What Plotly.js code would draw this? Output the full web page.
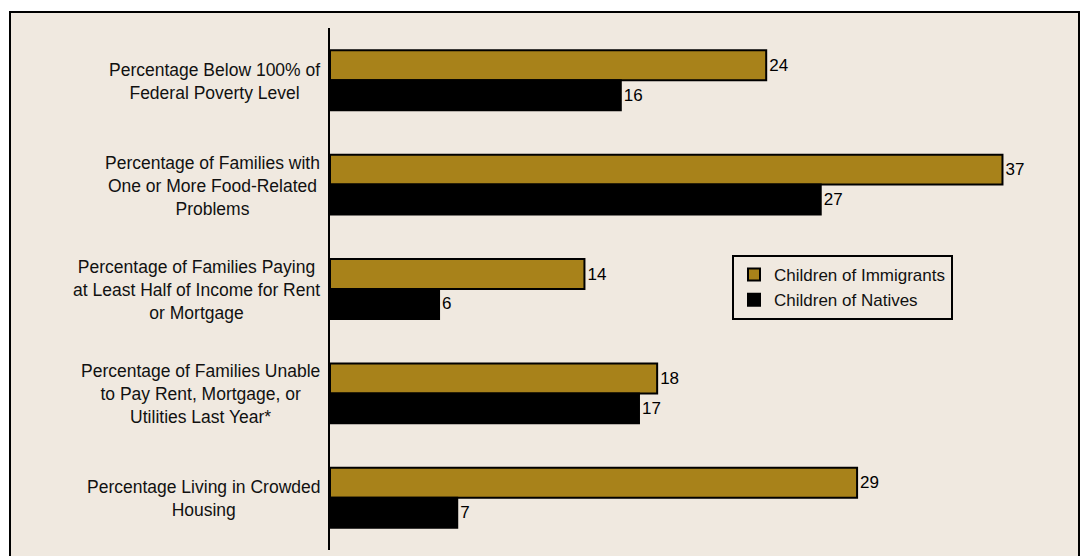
<!DOCTYPE html>
<html>
<head>
<meta charset="utf-8">
<script src="https://cdn.plot.ly/plotly-3.0.1.min.js"></script>
<style>html,body{margin:0;padding:0;background:#fff;}#chart{width:1080px;height:556px;}</style>
</head>
<body>
<div id="chart"></div>
<script>
const categories = [
  "Percentage Below 100% of<br>Federal Poverty Level",
  "Percentage of Families with<br>One or More Food-Related<br>Problems",
  "Percentage of Families Paying<br>at Least Half of Income for Rent<br>or Mortgage",
  "Percentage of Families Unable<br>to Pay Rent, Mortgage, or<br>Utilities Last Year*",
  "Percentage Living in Crowded<br>Housing"
];
const immigrants = [24, 37, 14, 18, 29];
const natives = [16, 27, 6, 17, 7];
const seriesNames = ["Children of Immigrants", "Children of Natives"];

const W = 1080, H = 556;
const mL = 330, mR = 23, mT = 28, mB = 6;
const pw = W - mL - mR, ph = H - mT - mB;
const px2x = p => (p - mL) / pw;
const py2y = p => (H - mB - p) / ph;

const idx = categories.map((c, i) => i);
const font = "Liberation Sans, Arial, sans-serif";

const traces = [
  {type: 'bar', orientation: 'h', name: seriesNames[0], y: idx, x: immigrants,
   text: immigrants.map(String), textposition: 'outside', cliponaxis: false,
   textfont: {size: 17, color: '#000', family: font},
   marker: {color: '#a8821a', line: {color: '#000', width: 2}}},
  {type: 'bar', orientation: 'h', name: seriesNames[1], y: idx, x: natives,
   text: natives.map(String), textposition: 'outside', cliponaxis: false,
   textfont: {size: 17, color: '#000', family: font},
   marker: {color: '#000000', line: {color: '#000', width: 2}}}
];

const annotations = categories.map((c, i) => ({
  text: c, xref: 'paper', yref: 'y', x: 0, y: i, xanchor: 'right', yanchor: 'middle',
  xshift: -8, yshift: -1, align: 'center', showarrow: false,
  font: {size: 17.5, color: '#111', family: font}
}));

const layout = {
  width: W, height: H,
  margin: {l: mL, r: mR, t: mT, b: mB, pad: 0},
  paper_bgcolor: '#ffffff', plot_bgcolor: 'rgba(0,0,0,0)',
  font: {family: font, color: '#111'},
  barmode: 'group', bargap: 0.426, bargroupgap: 0,
  xaxis: {range: [0, 40], visible: false, fixedrange: true},
  yaxis: {range: [4.5, -0.5], showticklabels: false, ticks: '', showgrid: false, zeroline: false,
          showline: true, linecolor: '#000', linewidth: 2, tickvals: idx},
  showlegend: true,
  legend: {x: px2x(732), y: py2y(255), xanchor: 'left', yanchor: 'top',
           bgcolor: '#f0e9e0', bordercolor: '#000', borderwidth: 2,
           font: {size: 17, color: '#111', family: font}, traceorder: 'normal',
           tracegroupgap: 0, itemwidth: 30},
  shapes: [{type: 'rect', xref: 'paper', yref: 'paper', layer: 'below',
            x0: px2x(10), x1: px2x(1079), y0: py2y(580), y1: py2y(12),
            fillcolor: '#f0e9e0', line: {color: '#000', width: 2}}],
  annotations: annotations
};

Plotly.newPlot('chart', traces, layout, {displayModeBar: false, staticPlot: true});
</script>
</body>
</html>
